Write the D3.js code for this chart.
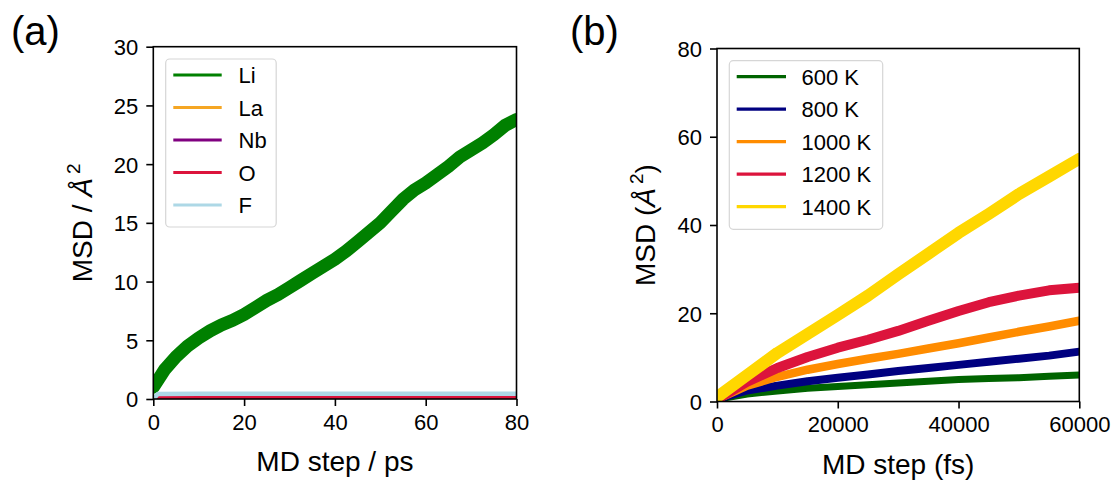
<!DOCTYPE html>
<html>
<head>
<meta charset="utf-8">
<script src="https://cdn.jsdelivr.net/npm/d3@7"></script>
<style>
  body { margin: 0; background: #fff; }
  text { font-family: "Liberation Sans", Arial, sans-serif; fill: #000; }
</style>
</head>
<body>
<svg id="chart" width="1117" height="480"></svg>
<script>
// ---------- Panel (a) data ----------
const timeA = [0, 2.5, 5, 7.5, 10, 12.5, 15, 17.5, 20, 22.5, 25, 27.5, 30, 32.5, 35, 37.5, 40,
               42.5, 45, 47.5, 50, 52.5, 55, 57.5, 60, 62.5, 65, 67.5, 70, 72.5, 75, 77.5, 80];
const msdLi = [1.0, 2.5, 3.6, 4.5, 5.2, 5.8, 6.3, 6.7, 7.2, 7.8, 8.4, 8.9, 9.5, 10.1, 10.7, 11.3, 11.9,
               12.6, 13.4, 14.2, 15.0, 16.0, 17.0, 17.8, 18.4, 19.1, 19.8, 20.6, 21.2, 21.8, 22.5, 23.3, 23.8];
const timeSmall = [0, 1, 10, 20, 40, 60, 80];
const msdLa = [0.0, 0.05, 0.06, 0.06, 0.07, 0.07, 0.07];
const msdNb = [0.0, 0.05, 0.06, 0.06, 0.06, 0.07, 0.07];
const msdO  = [0.0, 0.1, 0.1, 0.11, 0.11, 0.11, 0.11];
const msdF  = [0.0, 0.42, 0.45, 0.45, 0.45, 0.45, 0.45];
const speciesA = ["Li", "La", "Nb", "O", "F"];
const colorsA = ["#008000", "#f5a623", "#800080", "#dc143c", "#add8e6"];
const ticksAx = [0, 20, 40, 60, 80];
const ticksAy = [0, 5, 10, 15, 20, 25, 30];

// ---------- Panel (b) data ----------
const timeB = [0, 5000, 10000, 15000, 20000, 25000, 30000, 35000, 40000, 45000, 50000, 55000, 60000];
const msd600  = [0.5, 1.7, 2.4, 3.0, 3.4, 3.8, 4.2, 4.6, 5.0, 5.2, 5.4, 5.7, 6.0];
const msd800  = [0.5, 2.5, 3.6, 4.6, 5.4, 6.1, 6.9, 7.6, 8.3, 9.0, 9.7, 10.4, 11.3];
const msd1000 = [0.5, 3.6, 5.6, 7.2, 8.5, 9.7, 10.8, 12.0, 13.2, 14.5, 15.8, 17.0, 18.3];
const msd1200 = [0.5, 4.5, 7.6, 10.1, 12.2, 14.0, 16.0, 18.3, 20.5, 22.5, 24.0, 25.2, 25.8];
const msd1400 = [1.0, 6.0, 11.0, 15.3, 19.6, 24.0, 28.8, 33.5, 38.2, 42.5, 47.0, 51.0, 55.0];
const tempsB = ["600 K", "800 K", "1000 K", "1200 K", "1400 K"];
const colorsB = ["#006400", "#000080", "#ff8c00", "#dc143c", "#ffd700"];
const ticksBx = [0, 20000, 40000, 60000];
const ticksBy = [0, 20, 40, 60, 80];

const svg = d3.select("#chart");
const FONT_TICK = 22, FONT_LABEL = 28, FONT_LEG = 22;

function panel(cfg) {
  const g = svg.append("g");
  const x = d3.scaleLinear().domain(cfg.xdom).range([cfg.left, cfg.right]);
  const y = d3.scaleLinear().domain(cfg.ydom).range([cfg.bottom, cfg.top]);
  const clipId = "clip" + cfg.id;
  svg.append("defs").append("clipPath").attr("id", clipId)
    .append("rect").attr("x", cfg.left).attr("y", cfg.top)
    .attr("width", cfg.right - cfg.left).attr("height", cfg.bottom - cfg.top);

  const line = d3.line().x(d => x(d[0])).y(d => y(d[1]));
  const lines = g.append("g").attr("clip-path", `url(#${clipId})`);
  cfg.series.forEach(s => {
    lines.append("path")
      .datum(s.t.map((t, i) => [t, s.v[i]]))
      .attr("d", line).attr("fill", "none")
      .attr("stroke", s.color).attr("stroke-width", s.w)
      .attr("stroke-linejoin", "round").attr("stroke-linecap", "round");
  });

  // axes
  const xAxis = d3.axisBottom(x).tickValues(cfg.xticks).tickSize(7).tickPadding(8)
    .tickFormat(d3.format("d"));
  const yAxis = d3.axisLeft(y).tickValues(cfg.yticks).tickSize(7).tickPadding(8)
    .tickFormat(d3.format("d"));
  const gx = g.append("g").attr("transform", `translate(0,${cfg.bottom})`).call(xAxis);
  const gy = g.append("g").attr("transform", `translate(${cfg.left},0)`).call(yAxis);
  [gx, gy].forEach(a => {
    a.select(".domain").remove();
    a.selectAll(".tick line").attr("stroke", "#000").attr("stroke-width", 1.6);
    a.selectAll(".tick text").attr("font-size", FONT_TICK)
      .attr("font-family", "Liberation Sans, Arial, sans-serif").attr("fill", "#000");
  });
  gy.selectAll(".tick text").attr("dy", "0.36em");
  // frame
  g.append("rect").attr("x", cfg.left).attr("y", cfg.top)
    .attr("width", cfg.right - cfg.left).attr("height", cfg.bottom - cfg.top)
    .attr("fill", "none").attr("stroke", "#000").attr("stroke-width", 1.6);

  // x label
  g.append("text").attr("x", (cfg.left + cfg.right) / 2).attr("y", cfg.bottom + 72)
    .attr("text-anchor", "middle").attr("font-size", FONT_LABEL).text(cfg.xlabel);
  // y label
  const yl = g.append("text")
    .attr("transform", `translate(${cfg.ylabelX},${(cfg.top + cfg.bottom) / 2}) rotate(-90)`)
    .attr("text-anchor", "middle").attr("font-size", FONT_LABEL);
  yl.append("tspan").text(cfg.ylabelPre);
  yl.append("tspan").attr("font-style", "italic").text("Å");
  yl.append("tspan").attr("font-size", 19).attr("dy", -12).attr("dx", 4).text("2");
  if (cfg.ylabelPost) yl.append("tspan").attr("dy", 12).text(cfg.ylabelPost);

  // panel letter
  svg.append("text").attr("x", cfg.letterX).attr("y", 45).attr("font-size", 40).text(cfg.letter);

  // legend
  const L = cfg.legend;
  g.append("rect").attr("x", L.x).attr("y", L.y).attr("width", L.w).attr("height", L.h)
    .attr("rx", 4).attr("fill", "#fff").attr("fill-opacity", 0.8)
    .attr("stroke", "#d6d6d6").attr("stroke-width", 1.2);
  cfg.series.forEach((s, i) => {
    const cy = L.y0 + i * L.dy;
    g.append("line").attr("x1", L.lx1).attr("x2", L.lx2).attr("y1", cy).attr("y2", cy)
      .attr("stroke", s.color).attr("stroke-width", 3.2);
    g.append("text").attr("x", L.tx).attr("y", cy + 8).attr("font-size", FONT_LEG).text(s.name);
  });
}

const seriesA = [
  { t: timeA, v: msdLi, w: 13 },
  { t: timeSmall, v: msdLa, w: 3 },
  { t: timeSmall, v: msdNb, w: 3 },
  { t: timeSmall, v: msdO, w: 3.5 },
  { t: timeSmall, v: msdF, w: 4.5 }
].map((s, i) => Object.assign(s, { name: speciesA[i], color: colorsA[i] }));

panel({
  id: "a", letter: "(a)", letterX: 11,
  left: 153.3, right: 516.5, top: 46.7, bottom: 399,
  xdom: [0, 80], ydom: [0, 30], xticks: ticksAx, yticks: ticksAy,
  xlabel: "MD step / ps", ylabelPre: "MSD / ", ylabelPost: null, ylabelX: 92,
  series: seriesA,
  legend: { x: 165.7, y: 59, w: 110.5, h: 168, y0: 75, dy: 32.5, lx1: 173.3, lx2: 221.7, tx: 238.5 }
});

const valsB = [msd600, msd800, msd1000, msd1200, msd1400];
const widthsB = [7, 8, 8.5, 10, 12];
const seriesB = valsB.map((v, i) => ({ t: timeB, v: v, w: widthsB[i], name: tempsB[i], color: colorsB[i] }));

panel({
  id: "b", letter: "(b)", letterX: 570,
  left: 717, right: 1079.3, top: 48.5, bottom: 401.5,
  xdom: [0, 60000], ydom: [0, 80], xticks: ticksBx, yticks: ticksBy,
  xlabel: "MD step (fs)", ylabelPre: "MSD (", ylabelPost: ")", ylabelX: 655,
  series: seriesB,
  legend: { x: 729.3, y: 60.7, w: 153.4, h: 168.6, y0: 76.7, dy: 32.5, lx1: 736.7, lx2: 786, tx: 801.5 }
});
</script>
</body>
</html>
